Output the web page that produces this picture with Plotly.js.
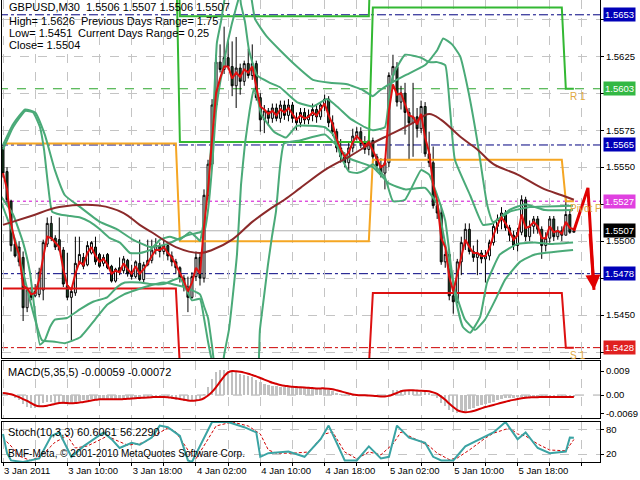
<!DOCTYPE html>
<html><head><meta charset="utf-8">
<script src="https://cdn.plot.ly/plotly-3.0.1.min.js"></script>
<style>html,body{margin:0;padding:0;background:#fff}#chart{width:640px;height:480px}</style>
</head><body><div id="chart"></div>
<script>
// ---- candles (GBPUSD M30, 3 Jan 2011 02:00 onwards) ----
const open = [1.5563,1.5547,1.5527,1.5498,1.5496,1.5489,1.5455,1.5465,1.5463,1.5464,1.5467,1.5498,1.5512,1.5502,1.5501,1.5494,1.5470,1.5462,1.5465,1.5485,
1.5489,1.5484,1.5492,1.5496,1.5491,1.5485,1.5491,1.5483,1.5473,1.5482,1.5480,1.5487,1.5479,1.5476,1.5485,1.5474,1.5484,1.5487,1.5494,1.5497,
1.5493,1.5497,1.5490,1.5486,1.5482,1.5475,1.5469,1.5462,1.5476,1.5489,1.5475,1.5531,1.5552,1.5592,1.5621,1.5616,1.5624,1.5618,1.5605,1.5617,
1.5608,1.5620,1.5612,1.5620,1.5597,1.5582,1.5588,1.5583,1.5590,1.5583,1.5592,1.5585,1.5592,1.5583,1.5580,1.5587,1.5582,1.5585,1.5589,1.5584,
1.5592,1.5596,1.5580,1.5574,1.5563,1.5557,1.5553,1.5563,1.5571,1.5574,1.5566,1.5562,1.5568,1.5557,1.5551,1.5546,1.5553,1.5612,1.5618,1.5594,
1.5600,1.5587,1.5580,1.5584,1.5576,1.5591,1.5559,1.5553,1.5524,1.5519,1.5486,1.5491,1.5463,1.5459,1.5486,1.5499,1.5508,1.5493,1.5489,1.5492,
1.5488,1.5490,1.5499,1.5510,1.5515,1.5519,1.5509,1.5504,1.5497,1.5506,1.5528,1.5503,1.5510,1.5515,1.5508,1.5497,1.5502,1.5515,1.5503,1.5507,
1.5504,1.5518,1.5506];
const high = [1.5565,1.5550,1.5528,1.5500,1.5500,1.5493,1.5469,1.5469,1.5471,1.5482,1.5501,1.5516,1.5517,1.5504,1.5516,1.5496,1.5492,1.5469,1.5503,1.5503,
1.5492,1.5500,1.5500,1.5503,1.5492,1.5491,1.5492,1.5484,1.5482,1.5489,1.5490,1.5488,1.5484,1.5487,1.5501,1.5486,1.5501,1.5501,1.5502,1.5499,
1.5501,1.5499,1.5493,1.5488,1.5483,1.5477,1.5476,1.5479,1.5493,1.5492,1.5535,1.5555,1.5596,1.5626,1.5633,1.5645,1.5636,1.5635,1.5638,1.5620,
1.5622,1.5630,1.5633,1.5622,1.5600,1.5592,1.5590,1.5593,1.5593,1.5595,1.5595,1.5596,1.5594,1.5587,1.5590,1.5590,1.5589,1.5593,1.5592,1.5594,
1.5599,1.5598,1.5585,1.5576,1.5569,1.5560,1.5567,1.5576,1.5577,1.5577,1.5571,1.5571,1.5570,1.5559,1.5556,1.5556,1.5614,1.5626,1.5621,1.5605,
1.5607,1.5590,1.5607,1.5590,1.5595,1.5594,1.5574,1.5564,1.5527,1.5524,1.5493,1.5493,1.5474,1.5488,1.5503,1.5512,1.5512,1.5497,1.5501,1.5494,
1.5494,1.5501,1.5513,1.5518,1.5523,1.5521,1.5511,1.5507,1.5509,1.5531,1.5530,1.5514,1.5517,1.5517,1.5510,1.5506,1.5517,1.5517,1.5510,1.5510,
1.5529,1.5521,1.5507];
const low = [1.5543,1.5525,1.5493,1.5489,1.5483,1.5446,1.5452,1.5460,1.5462,1.5462,1.5460,1.5496,1.5500,1.5494,1.5493,1.5469,1.5460,1.5433,1.5463,1.5484,
1.5481,1.5483,1.5491,1.5484,1.5482,1.5483,1.5481,1.5472,1.5472,1.5477,1.5478,1.5476,1.5474,1.5475,1.5473,1.5472,1.5483,1.5485,1.5491,1.5489,
1.5491,1.5487,1.5483,1.5478,1.5472,1.5466,1.5452,1.5461,1.5473,1.5470,1.5472,1.5528,1.5550,1.5588,1.5614,1.5613,1.5616,1.5598,1.5590,1.5599,
1.5605,1.5610,1.5609,1.5595,1.5574,1.5573,1.5578,1.5580,1.5581,1.5580,1.5582,1.5581,1.5580,1.5575,1.5577,1.5579,1.5579,1.5581,1.5580,1.5582,
1.5588,1.5577,1.5571,1.5560,1.5553,1.5550,1.5548,1.5560,1.5568,1.5563,1.5559,1.5558,1.5553,1.5547,1.5543,1.5535,1.5550,1.5608,1.5591,1.5589,
1.5572,1.5555,1.5557,1.5570,1.5573,1.5557,1.5550,1.5522,1.5515,1.5484,1.5482,1.5460,1.5451,1.5458,1.5477,1.5494,1.5491,1.5486,1.5477,1.5485,
1.5472,1.5487,1.5497,1.5505,1.5508,1.5507,1.5500,1.5494,1.5493,1.5504,1.5500,1.5500,1.5505,1.5505,1.5488,1.5493,1.5499,1.5500,1.5501,1.5500,
1.5504,1.5505,1.5506];
const close = [1.5546,1.5528,1.5497,1.5490,1.5486,1.5455,1.5467,1.5462,1.5466,1.5479,1.5499,1.5512,1.5502,1.5496,1.5494,1.5471,1.5462,1.5466,1.5485,1.5491,
1.5483,1.5497,1.5499,1.5486,1.5483,1.5489,1.5482,1.5473,1.5481,1.5479,1.5488,1.5478,1.5476,1.5486,1.5474,1.5484,1.5487,1.5494,1.5497,1.5493,
1.5497,1.5490,1.5486,1.5482,1.5475,1.5469,1.5462,1.5476,1.5489,1.5475,1.5531,1.5552,1.5592,1.5621,1.5616,1.5624,1.5618,1.5605,1.5617,1.5608,
1.5620,1.5612,1.5620,1.5597,1.5582,1.5588,1.5583,1.5590,1.5583,1.5592,1.5585,1.5592,1.5583,1.5580,1.5587,1.5582,1.5585,1.5589,1.5584,1.5592,
1.5596,1.5580,1.5574,1.5563,1.5557,1.5553,1.5563,1.5571,1.5574,1.5566,1.5562,1.5568,1.5557,1.5551,1.5546,1.5553,1.5612,1.5618,1.5594,1.5600,
1.5587,1.5580,1.5584,1.5576,1.5591,1.5559,1.5553,1.5524,1.5519,1.5486,1.5491,1.5463,1.5459,1.5486,1.5499,1.5508,1.5493,1.5489,1.5492,1.5488,
1.5490,1.5499,1.5510,1.5515,1.5519,1.5509,1.5504,1.5497,1.5506,1.5528,1.5503,1.5510,1.5515,1.5508,1.5497,1.5502,1.5515,1.5503,1.5507,1.5504,
1.5518,1.5506,1.5507];

// ---- fast MA (red), one value per bar ----
const maFast = [1.5546,1.5535,1.5512,1.5499,1.5491,1.5470,1.5468,1.5464,1.5465,1.5474,1.5489,1.5503,1.5502,1.5499,1.5496,1.5481,1.5470,1.5467,1.5478,1.5486,
1.5484,1.5492,1.5496,1.5490,1.5486,1.5488,1.5484,1.5478,1.5480,1.5479,1.5485,1.5481,1.5478,1.5483,1.5478,1.5481,1.5485,1.5490,1.5494,1.5494,
1.5496,1.5492,1.5489,1.5484,1.5479,1.5473,1.5466,1.5472,1.5482,1.5478,1.5510,1.5535,1.5569,1.5600,1.5610,1.5618,1.5618,1.5610,1.5614,1.5611,
1.5616,1.5614,1.5618,1.5605,1.5591,1.5589,1.5586,1.5588,1.5585,1.5589,1.5587,1.5590,1.5586,1.5582,1.5585,1.5583,1.5584,1.5587,1.5585,1.5589,
1.5593,1.5585,1.5579,1.5569,1.5562,1.5557,1.5560,1.5567,1.5571,1.5568,1.5564,1.5567,1.5561,1.5555,1.5550,1.5552,1.5588,1.5606,1.5599,1.5600,
1.5592,1.5585,1.5584,1.5579,1.5586,1.5570,1.5560,1.5538,1.5527,1.5502,1.5496,1.5476,1.5466,1.5478,1.5491,1.5501,1.5496,1.5492,1.5492,1.5490,
1.5490,1.5495,1.5504,1.5511,1.5516,1.5512,1.5507,1.5501,1.5504,1.5518,1.5509,1.5510,1.5513,1.5510,1.5502,1.5502,1.5510,1.5506,1.5507,1.5505,
1.5513,1.5509,1.5508];

// ---- slow MA (brown) read at sample bars ----
const maSlowBars = [0,7,14,24,30,34,37,43,49,52,57,62,66,70,74,80,86,91,97,102,106,109,114,118,122,128,134,139,142];
const maSlow = [1.5511,1.5517,1.5523,1.5524,1.5519,1.5511,1.5506,1.5496,1.5492,1.5494,1.5501,1.5513,1.5521,1.5528,1.5536,1.5548,1.5557,1.5565,1.5573,1.5580,1.5586,1.5582,1.5570,1.5562,1.5552,1.5545,1.5536,1.5531,1.5528];

// ---- Bollinger-type bands (green), read at sample bars ----
const bandAUpBars = [0,2.5,5.5,7.5,9.2,10.2,11.2,12.2,14.2,16.7,19.2,21.6,24.1,26.6,29.1,31.6,34.1,36.6,39.1,41.5,44,46.5,48.3,49,50.2,51.2,52.2,53.2,54.2,55.2,56.2,58.2,59.2,60.2,61.2,63.2,66.4,68.9,73.1,77.1,80.6,83.1,86.3,90,92,95,96,97,100,104,106,108,110,111.2,112.4,116.2,119.4,121.9,125.9,129.9,134.8,141.8];
const bandAUp = [1.5562,1.5577,1.5588,1.5587,1.5577,1.5562,1.5538,1.5520,1.5518,1.5517,1.5516,1.5513,1.5508,1.5502,1.5499,1.5492,1.5492,1.5494,1.5501,1.5503,1.5501,1.5506,1.5502,1.5500,1.5518,1.5546,1.5579,1.5634,1.5648,1.5665,1.5678,1.5679,1.5660,1.5648,1.5629,1.5612,1.5607,1.5604,1.5594,1.5591,1.5596,1.5591,1.5583,1.5577,1.5575,1.5577,1.5596,1.5612,1.5626,1.5624,1.5621,1.5621,1.5619,1.5589,1.5555,1.5531,1.5511,1.5512,1.5521,1.5525,1.5521,1.5521];
const bandALoBars = [-0.7,2.5,5,6.7,9.2,10.4,11.7,12.9,15.9,19.2,22.4,25.9,28.4,30.3,34.1,36.6,40,44,47,49,50,51,52,53,54,55,56.2,57.2,58.2,59.2,60.2,61.4,62.4,63.2,64.2,65.4,67.4,70.4,73.1,76.4,80.1,82.1,84.1,86.1,88.1,90,92,95,97,100,104,106,108,110,111.4,112.9,114.4,116.2,118.7,120.4,123.6,127.9,132.3,136.1,141.8];
const bandALo = [1.5531,1.5518,1.5499,1.5479,1.5430,1.5433,1.5442,1.5447,1.5448,1.5454,1.5459,1.5462,1.5469,1.5472,1.5472,1.5471,1.5471,1.5475,1.5460,1.5461,1.5448,1.5432,1.5419,1.5410,1.5403,1.5423,1.5440,1.5464,1.5491,1.5538,1.5566,1.5589,1.5603,1.5598,1.5586,1.5581,1.5574,1.5570,1.5578,1.5578,1.5577,1.5572,1.5557,1.5547,1.5546,1.5548,1.5552,1.5543,1.5527,1.5528,1.5548,1.5545,1.5531,1.5514,1.5484,1.5457,1.5442,1.5438,1.5449,1.5472,1.5491,1.5498,1.5499,1.5498,1.5499];
const bandBUpBars = [0,2.5,5.5,8,10.4,12.9,15.4,19.2,24.1,28.4,32.3,36.6,40.8,43.3,45.8,49,50.2,51,52,53,54,55,56,58,60,61.4,62.7,65.7,68.9,73.1,77.1,81.3,85.6,89.6,92,93.8,96,100,105,108,109.5,111.7,113.7,115.7,117.9,120.4,121.9,126.1,131.1,141.8];
const bandBUp = [1.5565,1.5579,1.5589,1.5587,1.5572,1.5548,1.5531,1.5523,1.5513,1.5508,1.5501,1.5496,1.5498,1.5501,1.5504,1.5506,1.5508,1.5521,1.5550,1.5588,1.5607,1.5621,1.5636,1.5658,1.5675,1.5670,1.5650,1.5638,1.5629,1.5618,1.5609,1.5607,1.5606,1.5602,1.5598,1.5602,1.5606,1.5612,1.5619,1.5629,1.5637,1.5633,1.5625,1.5602,1.5569,1.5525,1.5513,1.5520,1.5523,1.5524];
const bandBLoBars = [-0.7,3,6.7,9.7,12.9,15.4,19.2,22.9,25.9,30.1,35.3,40,45,49,50,51,52,53,55.2,62.7,63.9,64.9,65.9,66.9,67.9,68.9,69.9,73.9,80.1,86.1,92,96,100,105,108,110,112.4,114.9,117.4,119.9,122.4,124.9,128.6,132.3,141.8];
const bandBLo = [1.5528,1.5501,1.5460,1.5433,1.5432,1.5431,1.5435,1.5447,1.5457,1.5464,1.5469,1.5472,1.5469,1.5464,1.5456,1.5448,1.5429,1.5408,1.5393,1.5393,1.5440,1.5462,1.5484,1.5503,1.5520,1.5550,1.5566,1.5568,1.5572,1.5556,1.5550,1.5539,1.5535,1.5536,1.5525,1.5498,1.5467,1.5447,1.5440,1.5447,1.5460,1.5474,1.5486,1.5491,1.5494];

// ---- daily pivots ----
const dayStart = [0,44,92,140];
const pivotP  = [1.5566,1.5500,1.5555,1.5527];
const pivotR1 = [1.5700,1.5567,1.5658,1.5603];
const pivotR2 = [1.5760,1.5652,1.5748,1.5702];
const pivotS1 = [1.5468,1.5415,1.5465,1.5428];

// ---- horizontal levels & price tags ----
const levelValues = [1.5653,1.5603,1.5565,1.5527,1.5507,1.5478,1.5428];
const levelColors = ['#000080','#2aa52a','#000080','#d000d0','#b0b0b0','#000080','#cc0000'];
const levelDash   = ['dashdot','dash','dashdot','3px,3px','solid','dashdot','dashdot'];
const tagColors   = ['#0000b8','#33b844','#0000b8','#e040e0','#000000','#0000b8','#e02020'];

// ---- price axis ticks ----
const priceTicks = [1.5425,1.5450,1.5475,1.5500,1.5525,1.5550,1.5575,1.5600,1.5625,1.5650];
const priceTickText = ['','1.5450','','1.5500','','1.5550','1.5575','','1.5625',''];

// ---- forecast arrow ----
const arrowBars = [142,145.5,147];
const arrowPrices = [1.5507,1.5536,1.5467];

// ---- MACD(5,35,5) ----
const macdMain = [0.0010,0.0005,0.0000,-0.0010,-0.0020,-0.0035,-0.0045,-0.0050,-0.0050,-0.0040,
-0.0030,-0.0025,-0.0025,-0.0028,-0.0030,-0.0032,-0.0035,-0.0030,-0.0025,-0.0022,
-0.0020,-0.0018,-0.0015,-0.0015,-0.0015,-0.0016,-0.0016,-0.0017,-0.0017,-0.0015,
-0.0014,-0.0013,-0.0012,-0.0012,-0.0011,-0.0010,-0.0008,-0.0006,-0.0005,-0.0006,
-0.0008,-0.0012,-0.0015,-0.0018,-0.0020,-0.0022,-0.0024,-0.0022,-0.0018,-0.0016,
0.0005,0.0030,0.0060,0.0085,0.0092,0.0093,0.0091,0.0088,0.0085,0.0080,
0.0075,0.0070,0.0066,0.0058,0.0048,0.0042,0.0038,0.0035,0.0033,0.0032,
0.0031,0.0030,0.0029,0.0028,0.0027,0.0026,0.0025,0.0024,0.0024,0.0025,
0.0026,0.0020,0.0014,0.0008,0.0003,-0.0002,-0.0003,-0.0002,0.0000,0.0001,
0.0000,-0.0002,-0.0004,-0.0006,-0.0008,-0.0008,0.0005,0.0018,0.0020,0.0020,
0.0018,0.0016,0.0015,0.0014,0.0013,0.0014,0.0008,0.0000,-0.0012,-0.0028,
-0.0040,-0.0055,-0.0065,-0.0069,-0.0065,-0.0058,-0.0052,-0.0047,-0.0042,-0.0038,
-0.0035,-0.0030,-0.0025,-0.0020,-0.0015,-0.0012,-0.0010,-0.0010,-0.0009,-0.0006,
-0.0007,-0.0006,-0.0006,-0.0006,-0.0007,-0.0007,-0.0006,-0.0006,-0.0006,-0.0006,
-0.0005,-0.0006,-0.00059];
const macdSignal = [0.0008,0.0006,0.0003,-0.0002,-0.0008,-0.0015,-0.0022,-0.0030,-0.0038,-0.0042,
-0.0042,-0.0040,-0.0036,-0.0033,-0.0030,-0.0029,-0.0030,-0.0031,-0.0030,-0.0028,
-0.0026,-0.0023,-0.0020,-0.0018,-0.0016,-0.0016,-0.0016,-0.0016,-0.0016,-0.0016,
-0.0015,-0.0014,-0.0013,-0.0012,-0.0011,-0.0010,-0.0009,-0.0008,-0.0007,-0.0007,
-0.0007,-0.0008,-0.0010,-0.0012,-0.0015,-0.0018,-0.0020,-0.0021,-0.0020,-0.0018,
-0.0012,-0.0002,0.0012,0.0030,0.0050,0.0070,0.0085,0.0090,0.0089,0.0087,
0.0084,0.0080,0.0075,0.0070,0.0064,0.0058,0.0052,0.0046,0.0042,0.0038,
0.0035,0.0033,0.0031,0.0030,0.0029,0.0028,0.0027,0.0026,0.0025,0.0025,
0.0025,0.0024,0.0022,0.0018,0.0014,0.0010,0.0006,0.0002,0.0000,-0.0001,
-0.0001,-0.0002,-0.0003,-0.0004,-0.0005,-0.0005,-0.0003,0.0002,0.0008,0.0014,
0.0017,0.0018,0.0018,0.0017,0.0016,0.0015,0.0014,0.0010,0.0004,-0.0006,
-0.0018,-0.0032,-0.0045,-0.0056,-0.0062,-0.0064,-0.0063,-0.0060,-0.0055,-0.0050,
-0.0045,-0.0041,-0.0037,-0.0033,-0.0029,-0.0025,-0.0021,-0.0018,-0.0015,-0.0012,
-0.0010,-0.0009,-0.0008,-0.0008,-0.0007,-0.0007,-0.0007,-0.0007,-0.0007,-0.0007,
-0.0007,-0.0007,-0.00072];

// ---- Stochastic(10,3,3) read at sample bars ----
const stochBars = [0,1,2,5,9,12,14,17,20,25,27,29,32,34,37,39,41,44,46,47,52,56,60,63,64,66,71,75,79,81,83,85,88,91,94,96,98,101,105,107,109,112,115,120,122,125,128,130,133,136,140,141,142];
const stochMain = [70,22,4,0,9,65,74,13,39,74,57,35,48,43,61,91,87,65,4,0,100,100,87,74,13,22,26,13,57,91,48,4,4,39,9,13,91,61,48,13,4,4,39,65,74,100,57,74,35,22,26,61,60.6];
const stochSigBars = [0,2,4,7,10,13,16,18,21,26,28,31,33,35,38,41,43,46,48,50,53,57,61,64,66,68,72,76,80,82,85,88,91,94,97,99,102,106,108,111,113,116,120,122,126,128,130,133,136,140,142];
const stochSignal = [60,40,15,3,20,50,65,35,40,65,55,42,45,48,68,85,75,30,8,40,90,100,90,70,30,22,22,25,70,75,25,8,25,18,45,75,60,40,22,6,10,30,60,72,85,70,65,45,30,28,56.2];

const tickBars = [0,16,32,48,64,80,96,112,128];
const tickLabels = ['3 Jan 2011','3 Jan 10:00','3 Jan 18:00','4 Jan 02:00','4 Jan 10:00','4 Jan 18:00','5 Jan 02:00','5 Jan 10:00','5 Jan 18:00'];

// ---------------------------------------------------------------
const idx = close.map((_, i) => i);
const lastBar = idx[idx.length - 1];
function stepLine(vals){
  const xs = [], ys = [];
  for (let d = 0; d < dayStart.length; d++){
    const end = d + 1 < dayStart.length ? dayStart[d+1] - 1 : lastBar;
    xs.push(dayStart[d], end); ys.push(vals[d], vals[d]);
  }
  return {xs, ys};
}
const gridBars = [];
for (let b = 0; b <= 144; b += 8) gridBars.push(b);
const gridText = gridBars.map(b => { const k = tickBars.indexOf(b); return k >= 0 ? tickLabels[k] : ''; });

const traces = [];
const pv = [[pivotR2,'#33b833'],[pivotR1,'#33b833'],[pivotP,'#f5a623'],[pivotS1,'#dd1111']];
pv.forEach(([vals,col]) => { const s = stepLine(vals);
  traces.push({type:'scatter',mode:'lines',x:s.xs,y:s.ys,xaxis:'x',yaxis:'y',line:{color:col,width:2},hoverinfo:'skip'}); });

traces.push({type:'candlestick',x:idx,open:open,high:high,low:low,close:close,xaxis:'x',yaxis:'y',
  increasing:{line:{color:'#000000',width:1},fillcolor:'#ffffff'},
  decreasing:{line:{color:'#000000',width:1},fillcolor:'#1f4d2a'},whiskerwidth:0,hoverinfo:'skip'});

const bandCol = '#4aaa78';
[[bandBUpBars,bandBUp],[bandBLoBars,bandBLo],[bandAUpBars,bandAUp],[bandALoBars,bandALo]].forEach(([bx,by]) =>
  traces.push({type:'scatter',mode:'lines',x:bx,y:by,xaxis:'x',yaxis:'y',line:{color:bandCol,width:2,shape:'spline',smoothing:0.4},hoverinfo:'skip'}));

traces.push({type:'scatter',mode:'lines',x:maSlowBars,y:maSlow,xaxis:'x',yaxis:'y',line:{color:'#8b2a2a',width:2,shape:'spline'},hoverinfo:'skip'});
traces.push({type:'scatter',mode:'lines',x:idx,y:maFast,xaxis:'x',yaxis:'y',line:{color:'#e01010',width:2},hoverinfo:'skip'});
traces.push({type:'scatter',mode:'lines',x:arrowBars,y:arrowPrices,xaxis:'x',yaxis:'y',line:{color:'#e00000',width:3},hoverinfo:'skip'});

traces.push({type:'bar',x:idx,y:macdMain,xaxis:'x2',yaxis:'y2',marker:{color:'#c0c0c0',line:{width:0}},width:0.6,hoverinfo:'skip'});
traces.push({type:'scatter',mode:'lines',x:idx,y:macdSignal,xaxis:'x2',yaxis:'y2',line:{color:'#d40000',width:2,shape:'spline'},hoverinfo:'skip'});

traces.push({type:'scatter',mode:'lines',x:stochSigBars,y:stochSignal,xaxis:'x3',yaxis:'y3',line:{color:'#d00000',width:1,dash:'3px,2px'},hoverinfo:'skip'});
traces.push({type:'scatter',mode:'lines',x:stochBars,y:stochMain,xaxis:'x3',yaxis:'y3',line:{color:'#3aa3a3',width:2},hoverinfo:'skip'});

const shapes = levelValues.map((v,i) => ({type:'line',xref:'x',yref:'y',x0:-1,x1:149,y0:v,y1:v,
  line:{color:levelColors[i],width:1,dash:levelDash[i]},layer:'below'}));
shapes.push({type:'line',xref:'x2',yref:'y2',x0:-1,x1:149,y0:0,y1:0,line:{color:'#a8a8a8',width:1,dash:'dash'},layer:'below'});

const F = 'Liberation Sans, Arial, sans-serif';
const annotations = [];
levelValues.forEach((v,i) => annotations.push({xref:'paper',x:1,xanchor:'left',xshift:3,yref:'y',y:v,yanchor:'middle',
  text:String(v.toFixed(4)),showarrow:false,bgcolor:tagColors[i],font:{family:F,size:9.5,color:'#ffffff'},borderpad:1}));
annotations.push({xref:'x',yref:'y',x:arrowBars[2],y:arrowPrices[2],axref:'x',ayref:'y',ax:arrowBars[1]+0.5,ay:arrowPrices[1]-0.0030,
  showarrow:true,arrowhead:2,arrowsize:1,arrowwidth:3,arrowcolor:'#e00000',text:''});
annotations.push({xref:'x',yref:'y',x:dayStart[3]+0.5,y:pivotR1[3],xanchor:'left',yanchor:'top',text:'R 1',showarrow:false,font:{family:F,size:10,color:'#e0a840'}});
annotations.push({xref:'x',yref:'y',x:dayStart[3]+0.5,y:pivotS1[3],xanchor:'left',yanchor:'top',text:'S 1',showarrow:false,font:{family:F,size:10,color:'#e0a840'}});
annotations.push({xref:'x',yref:'y',x:dayStart[3]+0.5,y:pivotP[3],xanchor:'left',yanchor:'top',text:'Pivot P',showarrow:false,font:{family:F,size:10,color:'#e0a840'}});

const PH = 462;
const py = p => (PH - p) / PH;
const info = [['GBPUSD,M30  1.5506 1.5507 1.5506 1.5507',5,7,11],['High= 1.5626',5,21,11],['Previous Days Range= 1.75',77,21,11],
  ['Low= 1.5451',5,33,11],['Current Days Range= 0.25',74,33,11],['Close= 1.5504',5,45,11],
  ['MACD(5,35,5) -0.00059 -0.00072',4,372,11],['Stoch(10,3,3) 60.6061 56.2290',4,432,11],['BMF-Meta, © 2001-2010 MetaQuotes Software Corp.',4,453,10]];
info.forEach(([t,x,y,s]) => annotations.push({xref:'paper',yref:'paper',x:x/598,y:py(y),xanchor:'left',yanchor:'middle',
  text:t,showarrow:false,font:{family:F,size:s,color:'#000000'}}));

const gridCol = '#c4c4c4';
const xBase = {range:[-0.25,148.5],tickvals:gridBars,ticktext:gridText,showgrid:true,gridcolor:gridCol,griddash:'dash',gridwidth:1,
  showline:true,mirror:true,linecolor:'#000000',linewidth:1,zeroline:false,fixedrange:true};
const layout = {
  width:640,height:480,margin:{l:2,r:40,t:0,b:18},paper_bgcolor:'#ffffff',plot_bgcolor:'#ffffff',showlegend:false,bargap:0,
  font:{family:F,size:10,color:'#000000'},
  xaxis:Object.assign({},xBase,{anchor:'y',showticklabels:false,ticks:'',rangeslider:{visible:false}}),
  xaxis2:Object.assign({},xBase,{anchor:'y2',matches:'x',showticklabels:false,ticks:''}),
  xaxis3:Object.assign({},xBase,{anchor:'y3',matches:'x',showticklabels:true,ticks:'outside',ticklen:3,tickcolor:'#000',
    ticklabelposition:'outside right',tickfont:{family:F,size:9.5,color:'#000'}}),
  yaxis:{domain:[0.2251,1],range:[1.5421,1.5663],side:'right',tickvals:priceTicks,ticktext:priceTickText,
    showgrid:true,gridcolor:gridCol,griddash:'dash',ticks:'outside',ticklen:3,tickcolor:'#000',
    showline:true,mirror:true,linecolor:'#000',zeroline:false,fixedrange:true,tickfont:{family:F,size:9.5}},
  yaxis2:{domain:[0.0952,0.2186],range:[-0.0086,0.01275],side:'right',tickvals:[-0.0069,0,0.009],ticktext:['-0.0069','0.00','0.009'],
    showgrid:false,ticks:'outside',ticklen:3,tickcolor:'#000',showline:true,mirror:true,linecolor:'#000',zeroline:false,fixedrange:true,tickfont:{family:F,size:9.5}},
  yaxis3:{domain:[0,0.0866],range:[0,100],side:'right',tickvals:[20,80],ticktext:['20','80'],
    showgrid:true,gridcolor:gridCol,griddash:'dash',ticks:'outside',ticklen:3,tickcolor:'#000',showline:true,mirror:true,linecolor:'#000',zeroline:false,fixedrange:true,tickfont:{family:F,size:9.5}},
  shapes:shapes,annotations:annotations
};
Plotly.newPlot('chart',traces,layout,{staticPlot:true,displayModeBar:false});
</script></body></html>
